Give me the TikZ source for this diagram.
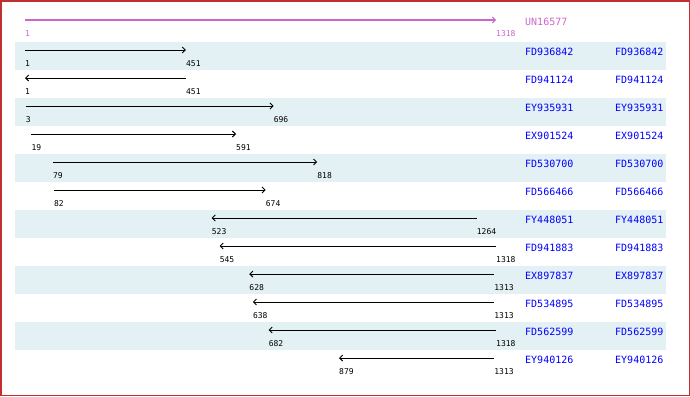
\documentclass[tikz,border=0pt]{standalone}
\usepackage{fontspec}
\setmonofont{DejaVu Sans Mono}
\usetikzlibrary{arrows.meta}
\definecolor{pinkline}{RGB}{204,102,204}
\definecolor{bandcol}{RGB}{227,240,244}
\definecolor{framecol}{RGB}{192,48,48}
\definecolor{namecol}{RGB}{0,0,255}
\tikzset{
  numlbl/.style={anchor=base west, inner sep=0pt, font=\ttfamily\fontsize{8bp}{8bp}\selectfont},
  namelbl/.style={anchor=base west, inner sep=0pt, text=namecol, font=\ttfamily\fontsize{10bp}{10bp}\selectfont},
  hitline/.style={line width=1bp, black},
  hithead/.style={-{Straight Barb[length=3bp,width=6bp,line width=0.9bp]}},
  bandbox/.style={fill=bandcol, draw=none},
}
\begin{document}
\begin{tikzpicture}[x=1bp,y=-1bp]
\useasboundingbox (0,0) rectangle (690,396);
% shaded bands
\foreach \k in {1,3,5,7,9,11}{
  \pgfmathsetmacro\ytop{42+28*(\k-1)}
  \fill[bandbox] (15,\ytop) rectangle (666,\ytop+28);
}
% query bar
\coordinate (qa) at (25,20);
\coordinate (qb) at (496,20);
\draw[pinkline, line width=1.6bp, -{Straight Barb[length=3bp,width=6bp,line width=1bp]}] (qa) -- (qb);
\node[numlbl, text=pinkline] (qsl) at ([yshift=-16.6bp]qa) {1};
\node[numlbl, text=pinkline] (qel) at ([yshift=-16.6bp]qb) {1318};
\node[namelbl, text=pinkline] (qname) at (525,25.6) {UN16577};
% hits
\foreach \k/\s/\e/\d/\n in {
  1/1/451/f/FD936842,
  2/1/451/r/FD941124,
  3/3/696/f/EY935931,
  4/19/591/f/EX901524,
  5/79/818/f/FD530700,
  6/82/674/f/FD566466,
  7/523/1264/r/FY448051,
  8/545/1318/r/FD941883,
  9/628/1313/r/EX897837,
  10/638/1313/r/FD534895,
  11/682/1318/r/FD562599,
  12/879/1313/r/EY940126}{
  \pgfmathsetmacro\yy{50+28*(\k-1)}
  \pgfmathsetmacro\xa{25+(\s-1)*0.357631}
  \pgfmathsetmacro\xb{25+(\e-1)*0.357631}
  \coordinate (a\k) at (\xa,\yy);
  \coordinate (b\k) at (\xb,\yy);
  \if\d f
    \draw[hitline, hithead] (a\k) -- (b\k);
  \else
    \draw[hitline, hithead] (b\k) -- (a\k);
  \fi
  \node[numlbl] (sl\k) at ([yshift=-16.6bp]a\k) {\s};
  \node[numlbl] (el\k) at ([yshift=-16.6bp]b\k) {\e};
  \node[namelbl] (n\k) at (525,\yy+5.6) {\n};
  \node[namelbl] (m\k) at (615,\yy+5.6) {\n};
}
% frame
\draw[framecol, line width=1.5bp] (0.75,0.75) rectangle (689.25,395.25);
\end{tikzpicture}
\end{document}
